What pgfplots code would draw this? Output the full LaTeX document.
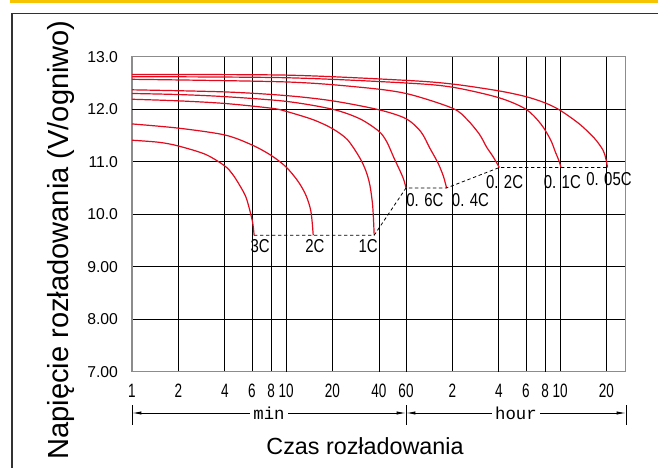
\documentclass[border=0pt]{standalone}
\usepackage{fontspec}
\setmainfont{Liberation Sans}
\setmonofont{Liberation Mono}
\newfontfamily\narrowfont[FakeStretch=0.8]{Liberation Sans}
\newfontfamily\tickfont[FakeStretch=0.7]{Liberation Sans}
\usepackage{pgfplots}
\pgfplotsset{compat=1.18}
\usetikzlibrary{arrows.meta}
\definecolor{curvered}{RGB}{228,10,30}
\definecolor{frameyellow}{RGB}{246,196,0}
\definecolor{framedark}{RGB}{50,50,50}
\definecolor{gridgray}{RGB}{140,140,140}
\begin{document}
\begin{tikzpicture}[x=0.75pt,y=0.75pt]
\useasboundingbox (0,0) rectangle (658,468);
\clip (0,0) rectangle (658,468);
\fill[white] (0,0) rectangle (658,468);
\fill[frameyellow] (10,465.3) rectangle (658,468);
\draw[framedark,line width=1pt] (12,-5) -- (12,454.7) -- (670,454.7);
\begin{axis}[
  at={(99pt,72.2pt)}, anchor=south west,
  scale only axis, width=370.3pt, height=236.25pt,
  xmode=log, xmin=1, xmax=1600, ymin=7, ymax=13,
  clip=false,
  xtick={1,2,4,6,8,20,120,360,600,1200},
  xticklabels={1,2,4,6,8,20,2,6,10,20},
  extra x ticks={10,40,60,240,480},
  extra x tick labels={10,40,60,4,8},
  extra x tick style={grid style={gridgray,line width=0.9pt}},
  ytick={7,8,9,10,11,13},
  yticklabels={7.00,8.00,9.00,10.0,11.0,13.0},
  extra y ticks={12},
  extra y tick labels={12.0},
  extra y tick style={grid style={gridgray,line width=1.1pt}},
  grid=major,
  major grid style={black,line width=0.5pt},
  major tick length=0pt,
  axis line style={gridgray,line width=0.9pt},
  /pgf/number format/assume math mode=true,
  xticklabel style={font=\tickfont\fontsize{14.5}{16}\selectfont, yshift=-6pt},
  yticklabel style={font=\fontsize{11.8}{13}\selectfont, xshift=-7pt},
]
% 3C
\addplot[curvered, line width=0.9pt, smooth] coordinates {(1,11.41)(1.5,11.37)(2,11.30)(3,11.14)(4,10.92)(4.5,10.76)(5,10.55)(5.5,10.32)(5.9,10.0)(6.1,9.8)(6.2,9.6)};
% 2C
\addplot[curvered, line width=0.9pt, smooth] coordinates {(1,11.72)(2,11.64)(4,11.51)(6,11.32)(8,11.12)(10,10.90)(12,10.62)(13.5,10.35)(14.5,10.05)(15,9.6)};
% 1C
\addplot[curvered, line width=0.9pt, smooth] coordinates {(1,12.19)(2,12.16)(4,12.11)(8,12.02)(10,11.96)(15,11.80)(20,11.63)(25,11.42)(30,11.08)(33,10.82)(35,10.55)(36.5,10.15)(37.3,9.6)};
% 0.6C
\addplot[curvered, line width=0.9pt, smooth] coordinates {(1,12.30)(2,12.28)(4,12.24)(10,12.15)(20,12.0)(30,11.82)(40,11.58)(45,11.38)(50,11.08)(55,10.82)(58,10.66)(60,10.5)};
% 0.4C
\addplot[curvered, line width=0.9pt, smooth] coordinates {(1,12.37)(4,12.33)(10,12.26)(20,12.16)(40,11.99)(60,11.82)(75,11.57)(86,11.25)(97,10.97)(105,10.72)(110,10.5)};
% 0.2C
\addplot[curvered, line width=0.9pt, smooth] coordinates {(1,12.57)(10,12.52)(30,12.42)(60,12.30)(120,12.02)(150,11.80)(180,11.52)(200,11.28)(220,11.10)(242,10.89)};
% 0.1C
\addplot[curvered, line width=0.9pt, smooth] coordinates {(1,12.62)(10,12.60)(60,12.50)(120,12.42)(240,12.22)(360,12.0)(450,11.72)(520,11.42)(560,11.18)(590,11.02)(608,10.89)};
% 0.05C
\addplot[curvered, line width=0.9pt, smooth] coordinates {(1,12.66)(10,12.65)(60,12.55)(120,12.48)(240,12.35)(360,12.24)(480,12.12)(600,11.98)(800,11.72)(1000,11.45)(1140,11.22)(1190,11.05)(1219,10.89)};
% end-voltage line
\addplot[black, line width=0.6pt, dash pattern=on 2.5pt off 2pt] coordinates {(6.2,9.6)(37.3,9.6)(60,10.5)(110,10.5)(242,10.89)(1219,10.89)};
\begin{scope}[every node/.style={font=\narrowfont\fontsize{14}{15}\selectfont, inner sep=0pt}]
\node at (axis cs:6.78,9.385) {3C};
\node at (axis cs:15.4,9.385) {2C};
\node at (axis cs:34.1,9.385) {1C};
\node at (axis cs:79.6,10.27) {0. 6C};
\node at (axis cs:157.3,10.27) {0. 4C};
\node at (axis cs:261.6,10.62) {0. 2C};
\node at (axis cs:620,10.62) {0. 1C};
\node at (axis cs:1245,10.665) {0. 05C};
\end{scope}
\end{axis}
\node[anchor=base, font=\fontsize{17.5}{19}\selectfont] at (365,13) {Czas rozładowania};
\node[rotate=90, anchor=base, font=\fontsize{21.8}{24}\selectfont] at (68,228) {Napięcie rozładowania (V/ogniwo)};
\draw[line width=0.6pt] (132,43) -- (132,63) (406,43) -- (406,63) (626,43) -- (626,63);
\draw[line width=0.6pt, {Latex[length=7pt,width=2.4pt]}-{Latex[length=7pt,width=2.4pt]}] (132,55) -- (406,55) node[midway, fill=white, inner sep=2.5pt, font=\ttfamily\fontsize{13}{15}\selectfont] {min};
\draw[line width=0.6pt, {Latex[length=7pt,width=2.4pt]}-{Latex[length=7pt,width=2.4pt]}] (406,55) -- (626,55) node[midway, fill=white, inner sep=2.5pt, font=\ttfamily\fontsize{13}{15}\selectfont] {hour};
\end{tikzpicture}
\end{document}
